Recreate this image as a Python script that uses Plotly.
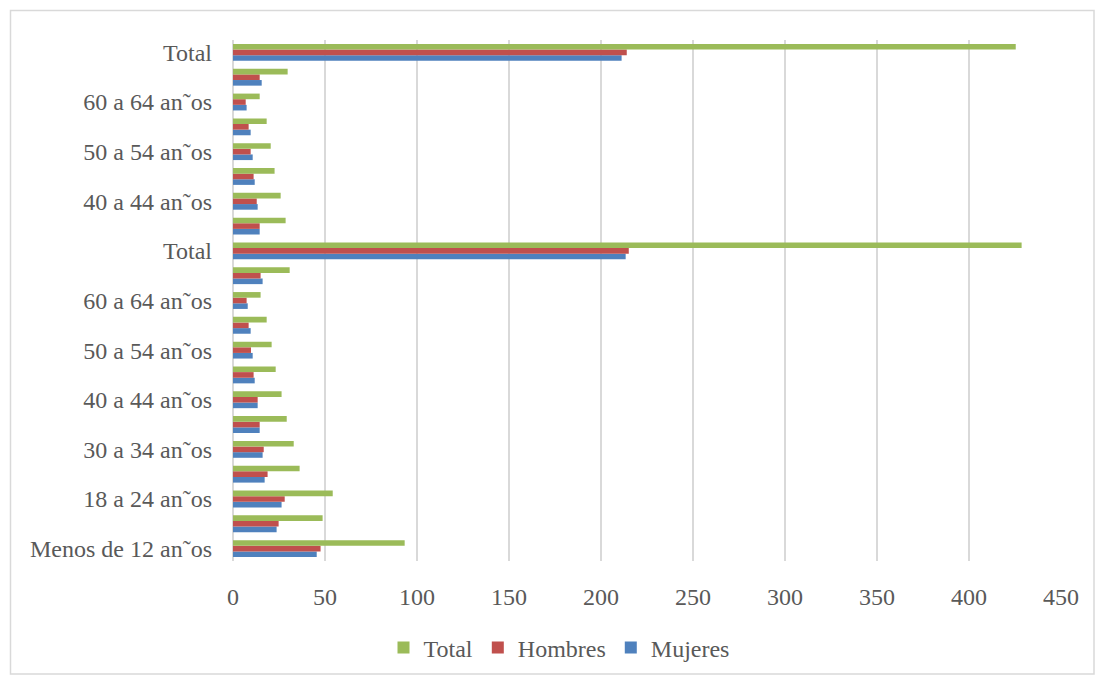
import plotly.graph_objects as go

categories = [
    "Menos de 12 años", "12 a 17 años", "18 a 24 años", "25 a 29 años",
    "30 a 34 años", "35 a 39 años", "40 a 44 años", "45 a 49 años",
    "50 a 54 años", "55 a 59 años", "60 a 64 años", "65 y más años", "Total",
    "35 a 39 años ", "40 a 44 años ", "45 a 49 años ", "50 a 54 años ",
    "55 a 59 años ", "60 a 64 años ", "65 y más años ", "Total ",
]
total = [93.3, 48.7, 54.2, 36.2, 33.0, 29.2, 26.4, 23.2, 21.0, 18.3, 15.0, 30.8, 428.6,
         28.6, 25.9, 22.6, 20.5, 18.3, 14.5, 29.7, 425.4]
hombres = [47.6, 24.8, 28.1, 18.8, 16.7, 14.5, 13.4, 11.2, 9.8, 8.5, 7.4, 15.0, 215.1,
           14.5, 12.9, 11.2, 9.6, 8.5, 6.9, 14.5, 214.0]
mujeres = [45.5, 23.7, 26.4, 17.2, 16.1, 14.5, 13.4, 11.8, 10.7, 9.6, 8.0, 16.1, 213.4,
           14.5, 13.4, 11.8, 10.7, 9.6, 7.4, 15.6, 211.2]
tick_labels = ["Menos de 12 an\u02dcos", "18 a 24 an\u02dcos", "30 a 34 an\u02dcos",
               "40 a 44 an\u02dcos", "50 a 54 an\u02dcos", "60 a 64 an\u02dcos", "Total",
               "40 a 44 an\u02dcos", "50 a 54 an\u02dcos", "60 a 64 an\u02dcos", "Total"]
x_ticks = [0, 50, 100, 150, 200, 250, 300, 350, 400, 450]

FONT = "Liberation Serif"
GRAY = "#595959"
FS = 24

fig = go.Figure()
fig.add_trace(go.Bar(y=categories, x=mujeres, name="Mujeres", orientation="h",
                     marker=dict(color="#4F81BD", line=dict(width=0))))
fig.add_trace(go.Bar(y=categories, x=hombres, name="Hombres", orientation="h",
                     marker=dict(color="#C0504D", line=dict(width=0))))
fig.add_trace(go.Bar(y=categories, x=total, name="Total", orientation="h",
                     marker=dict(color="#9BBB59", line=dict(width=0))))

L, R, T, B = 233, 34, 40, 114
W, H = 1095, 675
pw, ph = W - L - R, H - T - B

fig.update_layout(
    width=W, height=H,
    margin=dict(l=L, r=R, t=T, b=B, autoexpand=False),
    barmode="group", bargap=0.32, bargroupgap=0,
    plot_bgcolor="white", paper_bgcolor="white",
    font=dict(family=FONT, size=FS, color=GRAY),
    showlegend=True,
    legend=dict(orientation="h", traceorder="reversed",
                xref="container", x=559 / W, xanchor="center",
                yref="container", y=1 - 648 / H, yanchor="middle",
                font=dict(family=FONT, size=FS, color=GRAY),
                itemwidth=30, tracegroupgap=0),
    xaxis=dict(range=[0, 450], tickvals=x_ticks, showgrid=True, gridcolor="#d9d9d9",
               gridwidth=2, zeroline=True, zerolinecolor="#d9d9d9", zerolinewidth=2,
               showline=False, ticks="", tickfont=dict(family=FONT, size=FS, color=GRAY),
               ticklabelstandoff=19),
    yaxis=dict(type="category", categoryorder="array", categoryarray=categories,
               tickmode="array", tickvals=categories[::2], ticktext=tick_labels,
               showgrid=False, showline=False, ticks="", ticklabelstandoff=20,
               tickfont=dict(family=FONT, size=FS, color=GRAY),
               range=[-0.5, len(categories) - 0.5]),
    shapes=[dict(type="rect", xref="paper", yref="paper",
                 x0=(10.5 - L) / pw, x1=(1094 - L) / pw,
                 y0=(ph - (674 - T)) / ph, y1=(ph - (10.5 - T)) / ph,
                 line=dict(color="#d9d9d9", width=1.5), fillcolor="rgba(0,0,0,0)",
                 layer="below")],
)

fig.write_html("out.html")
